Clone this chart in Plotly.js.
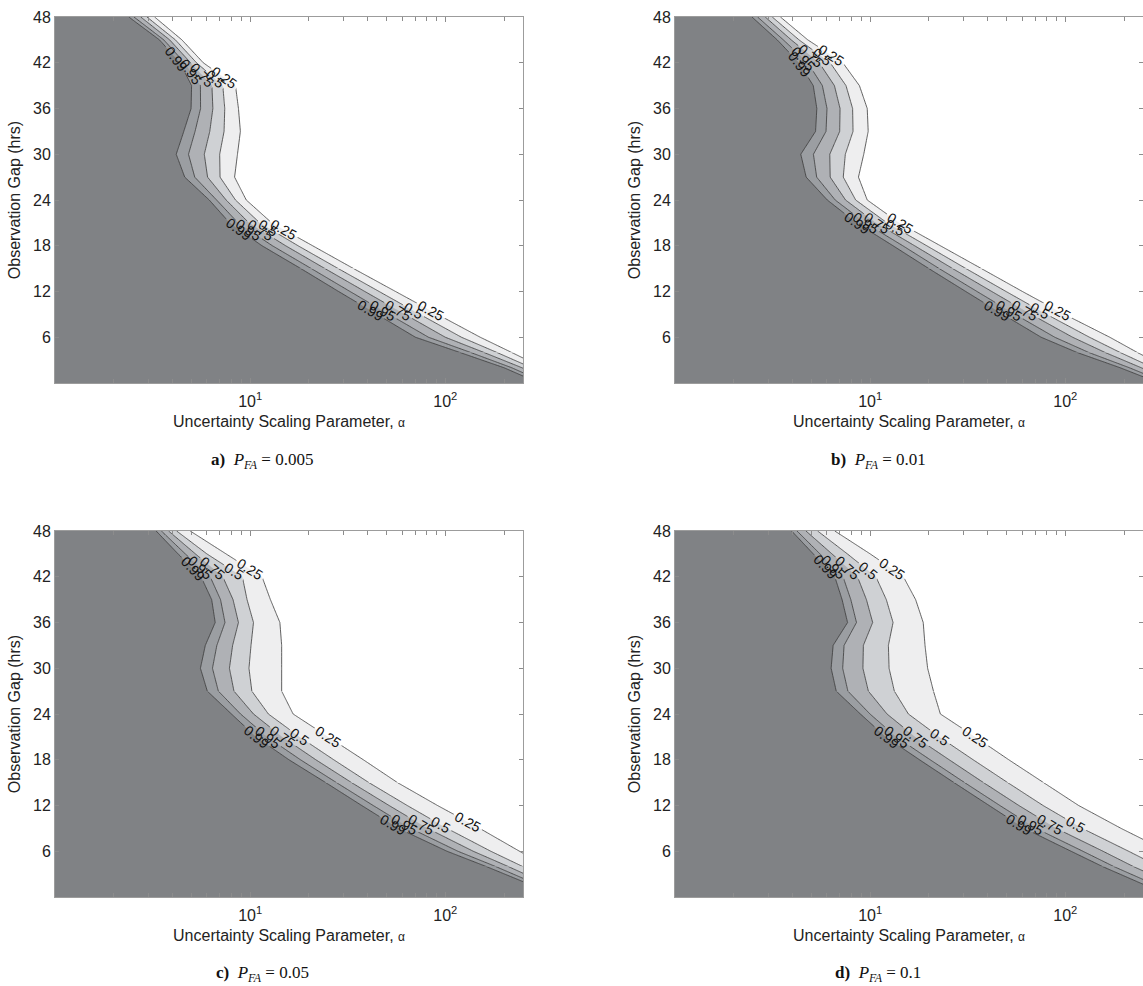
<!DOCTYPE html>
<html><head><meta charset="utf-8">
<script src="https://cdn.plot.ly/plotly-3.0.1.min.js"></script>
<style>html,body{margin:0;padding:0;background:#fff}#chart{width:1143px;height:986px}</style>
</head><body><div id="chart"></div>
<script>
// Observation gap rows (hrs)
const gapHrs = [0, 2, 4, 6, 9, 12, 15, 18, 21, 24, 27, 30, 33, 36, 39, 42, 45, 48];
// Contour levels (probability)
const levels = [0.25, 0.5, 0.75, 0.95, 0.99];

// Alpha where each probability level is crossed, per gap row
// Panel a) P_FA = 0.005
const a_p25 = [457, 316, 219, 151, 91.2, 55.6, 33.9, 20.9, 12.9, 9.55, 8.32, 8.61, 8.91, 8.71, 8.41, 5.75, 4.47, 3.24];
const a_p50 = [406, 277, 184, 121, 74.1, 45.8, 28.3, 17.6, 11.2, 8.41, 7.01, 6.98, 7.35, 7.41, 7.24, 5.31, 4.14, 2.96];
const a_p75 = [366, 247, 158, 100, 62.1, 38.7, 24.2, 15.2, 9.86, 7.53, 6.05, 5.82, 6.21, 6.44, 6.37, 4.95, 3.87, 2.75];
const a_p95 = [328, 219, 135, 82.0, 51.5, 32.5, 20.6, 13.0, 8.67, 6.73, 5.20, 4.83, 5.22, 5.57, 5.56, 4.61, 3.61, 2.54];
const a_p99 = [302, 200, 119, 70.3, 44.7, 28.4, 18.2, 11.5, 7.85, 6.17, 4.62, 4.18, 4.57, 4.98, 5.01, 4.37, 3.43, 2.39];
// Panel b) P_FA = 0.01
const b_p25 = [468, 331, 234, 169, 99.1, 60.3, 37.2, 22.9, 14.1, 9.66, 8.71, 9.27, 9.77, 9.66, 8.81, 7.24, 4.79, 3.47];
const b_p50 = [412, 282, 191, 133, 80.2, 49.7, 31.0, 19.5, 12.2, 8.43, 7.28, 7.46, 8.17, 8.13, 7.52, 6.24, 4.32, 3.15];
const b_p75 = [369, 245, 160, 109, 66.8, 42.0, 26.5, 16.9, 10.7, 7.48, 6.24, 6.21, 6.98, 7.01, 6.56, 5.48, 3.94, 2.90];
const b_p95 = [330, 213, 132, 88.3, 55.3, 35.3, 22.6, 14.7, 9.42, 6.62, 5.32, 5.12, 5.94, 6.01, 5.69, 4.79, 3.59, 2.65];
const b_p99 = [302, 191, 115, 75.2, 47.9, 30.9, 20.0, 13.1, 8.51, 6.03, 4.70, 4.41, 5.25, 5.33, 5.11, 4.32, 3.34, 2.48];
// Panel c) P_FA = 0.05
const c_p25 = [631, 457, 331, 240, 150, 91.2, 56.9, 38.0, 25.1, 16.6, 14.5, 14.5, 14.5, 14.2, 12.7, 11.5, 7.52, 4.93];
const c_p50 = [515, 360, 249, 171, 102, 63.8, 40.6, 26.8, 17.9, 12.4, 10.2, 9.86, 10.1, 10.4, 9.64, 9.12, 6.00, 4.20];
const c_p75 = [456, 312, 210, 139, 81.1, 51.5, 33.1, 21.7, 14.6, 10.4, 8.26, 7.83, 8.13, 8.71, 8.17, 7.24, 5.24, 3.82];
const c_p95 = [410, 275, 181, 116, 66.4, 42.7, 27.7, 18.1, 12.2, 8.93, 6.87, 6.41, 6.75, 7.43, 7.05, 6.24, 4.65, 3.51];
const c_p99 = [380, 251, 162, 102, 57.5, 37.3, 24.4, 15.8, 10.7, 8.02, 6.03, 5.56, 5.89, 6.62, 6.35, 5.60, 4.27, 3.30];
// Panel d) P_FA = 0.1
const d_p25 = [955, 676, 468, 331, 193, 117, 77.4, 51.3, 34.5, 22.9, 21.1, 19.7, 19.1, 18.7, 17.1, 14.8, 10.0, 6.59];
const d_p50 = [643, 443, 301, 211, 122, 76.9, 50.7, 33.7, 22.6, 15.7, 13.3, 12.5, 12.4, 13.1, 12.1, 10.7, 7.64, 5.38];
const d_p75 = [492, 333, 223, 156, 89.9, 57.8, 38.1, 25.4, 17.0, 12.2, 9.79, 9.18, 9.23, 10.3, 9.57, 8.61, 6.37, 4.69];
const d_p95 = [400, 266, 177, 123, 70.8, 46.2, 30.5, 20.3, 13.6, 9.98, 7.69, 7.23, 7.35, 8.51, 7.96, 7.26, 5.53, 4.22];
const d_p99 = [355, 234, 155, 107, 61.7, 40.7, 26.9, 17.9, 12.0, 8.91, 6.70, 6.31, 6.46, 7.66, 7.18, 6.59, 5.11, 3.96];

const panelLabels = ['a)', 'b)', 'c)', 'd)'];
const pfaValues = ['0.005', '0.01', '0.05', '0.1'];
const xTickVals = [10, 100];
const xTickText = ['10<sup>1</sup>', '10<sup>2</sup>'];
const xMinorTickVals = [2, 3, 4, 5, 6, 7, 8, 9, 20, 30, 40, 50, 60, 70, 80, 90, 200];
const yTickVals = [6, 12, 18, 24, 30, 36, 42, 48];
const xTitle = 'Uncertainty Scaling Parameter, <span style="font-size:12px">α</span>';
const yTitle = 'Observation Gap (hrs)';

const panelLines = [
  [a_p25, a_p50, a_p75, a_p95, a_p99],
  [b_p25, b_p50, b_p75, b_p95, b_p99],
  [c_p25, c_p50, c_p75, c_p95, c_p99],
  [d_p25, d_p50, d_p75, d_p95, d_p99]
];
const bandColors = ['#eeeeef', '#cfd1d4', '#afb1b5', '#9b9ea2', '#808285'];
// row ranges (indices into gapHrs) used for the line pieces; each labelled piece carries its own label
const lineSegments = [[0, 2], [2, 6], [6, 10], [10, 17]];
const segmentLabelled = [false, true, true, true];

// sampling grid along alpha (log spaced, wider than the visible range)
const xGrid = [];
for (let i = 0; i <= 180; i++) xGrid.push(Math.pow(10, i / 60));

const W = 1143, H = 986;
const xDom = [[55 / W, 523 / W], [675 / W, 1]];
const yDom = [[1 - 383 / H, 1 - 17 / H], [1 - 897 / H, 1 - 531 / H]];
const font = 'Liberation Sans, Arial, sans-serif';

function field(cross, lvl) {
  // equals the level exactly on the read crossing positions
  return cross.map(c => xGrid.map(x => lvl + 0.2 * (Math.log10(c) - Math.log10(x))));
}

const fillTraces = [], lineTraces = [];
panelLines.forEach((lines, p) => {
  const sfx = p === 0 ? '' : String(p + 1);
  lines.forEach((cross, k) => {
    const lvl = levels[k];
    const z = field(cross, lvl);
    // filled band (plotly shades the side failing the constraint -> z > level)
    fillTraces.push({
      type: 'contour', x: xGrid, y: gapHrs, z: z,
      xaxis: 'x' + sfx, yaxis: 'y' + sfx,
      contours: {type: 'constraint', operation: '<', value: lvl, showlabels: false},
      fillcolor: bandColors[k],
      line: {color: bandColors[k], width: 0, smoothing: 0},
      showscale: false, hoverinfo: 'skip', showlegend: false
    });
    lineSegments.forEach(([r0, r1], s) => {
      lineTraces.push({
        type: 'contour', x: xGrid, y: gapHrs.slice(r0, r1 + 1), z: z.slice(r0, r1 + 1),
        xaxis: 'x' + sfx, yaxis: 'y' + sfx,
        contours: {type: 'constraint', operation: '<', value: lvl, showlabels: segmentLabelled[s],
                   labelformat: '~g', labelfont: {family: font, size: 14, color: '#111'}},
        fillcolor: 'rgba(0,0,0,0)',
        line: {color: '#3a3a3a', width: 0.8, smoothing: 0},
        showscale: false, hoverinfo: 'skip', showlegend: false
      });
    });
  });
});

const layout = {
  width: W, height: H, margin: {l: 0, r: 0, t: 0, b: 0},
  paper_bgcolor: '#fff', plot_bgcolor: '#fff', showlegend: false,
  annotations: []
};
for (let p = 0; p < 4; p++) {
  const sfx = p === 0 ? '' : String(p + 1);
  const col = p % 2, row = Math.floor(p / 2);
  layout['xaxis' + sfx] = {
    domain: xDom[col], anchor: 'y' + sfx, type: 'log', range: [0, Math.log10(250)],
    tickmode: 'array', tickvals: xTickVals, ticktext: xTickText,
    ticks: 'inside', ticklen: 5, tickcolor: '#8c8c8c',
    minor: {tickmode: 'array', tickvals: xMinorTickVals, ticks: 'inside', ticklen: 4, tickcolor: '#8c8c8c', showgrid: false},
    showline: true, linecolor: '#9c9c9c',
    linewidth: 1, mirror: 'ticks', showgrid: false, zeroline: false, ticklabelstandoff: 4,
    tickfont: {family: font, size: 16, color: '#222'},
    title: {text: xTitle, font: {family: font, size: 16, color: '#222'}, standoff: 6}
  };
  layout['yaxis' + sfx] = {
    domain: yDom[row], anchor: 'x' + sfx, range: [0, 48],
    tickmode: 'array', tickvals: yTickVals,
    ticks: 'inside', ticklen: 4, tickcolor: '#8c8c8c', showline: true, linecolor: '#9c9c9c',
    linewidth: 1, mirror: 'ticks', showgrid: false, zeroline: false,
    tickfont: {family: font, size: 16, color: '#222'},
    title: {text: yTitle, font: {family: font, size: 16, color: '#222'}, standoff: 8}
  };
  layout.annotations.push({
    xref: 'paper', yref: 'paper', showarrow: false, xanchor: 'center', yanchor: 'middle',
    x: (col === 0 ? 262 : 878) / W, y: 1 - (row === 0 ? 461 : 974) / H,
    text: '<b>' + panelLabels[p] + '</b>  <i>P</i><sub><i>FA</i></sub> = ' + pfaValues[p],
    font: {family: 'Liberation Serif, Times New Roman, serif', size: 17, color: '#111'}
  });
}

Plotly.newPlot('chart', fillTraces.concat(lineTraces), layout, {staticPlot: true, displayModeBar: false});
</script>
</body></html>
